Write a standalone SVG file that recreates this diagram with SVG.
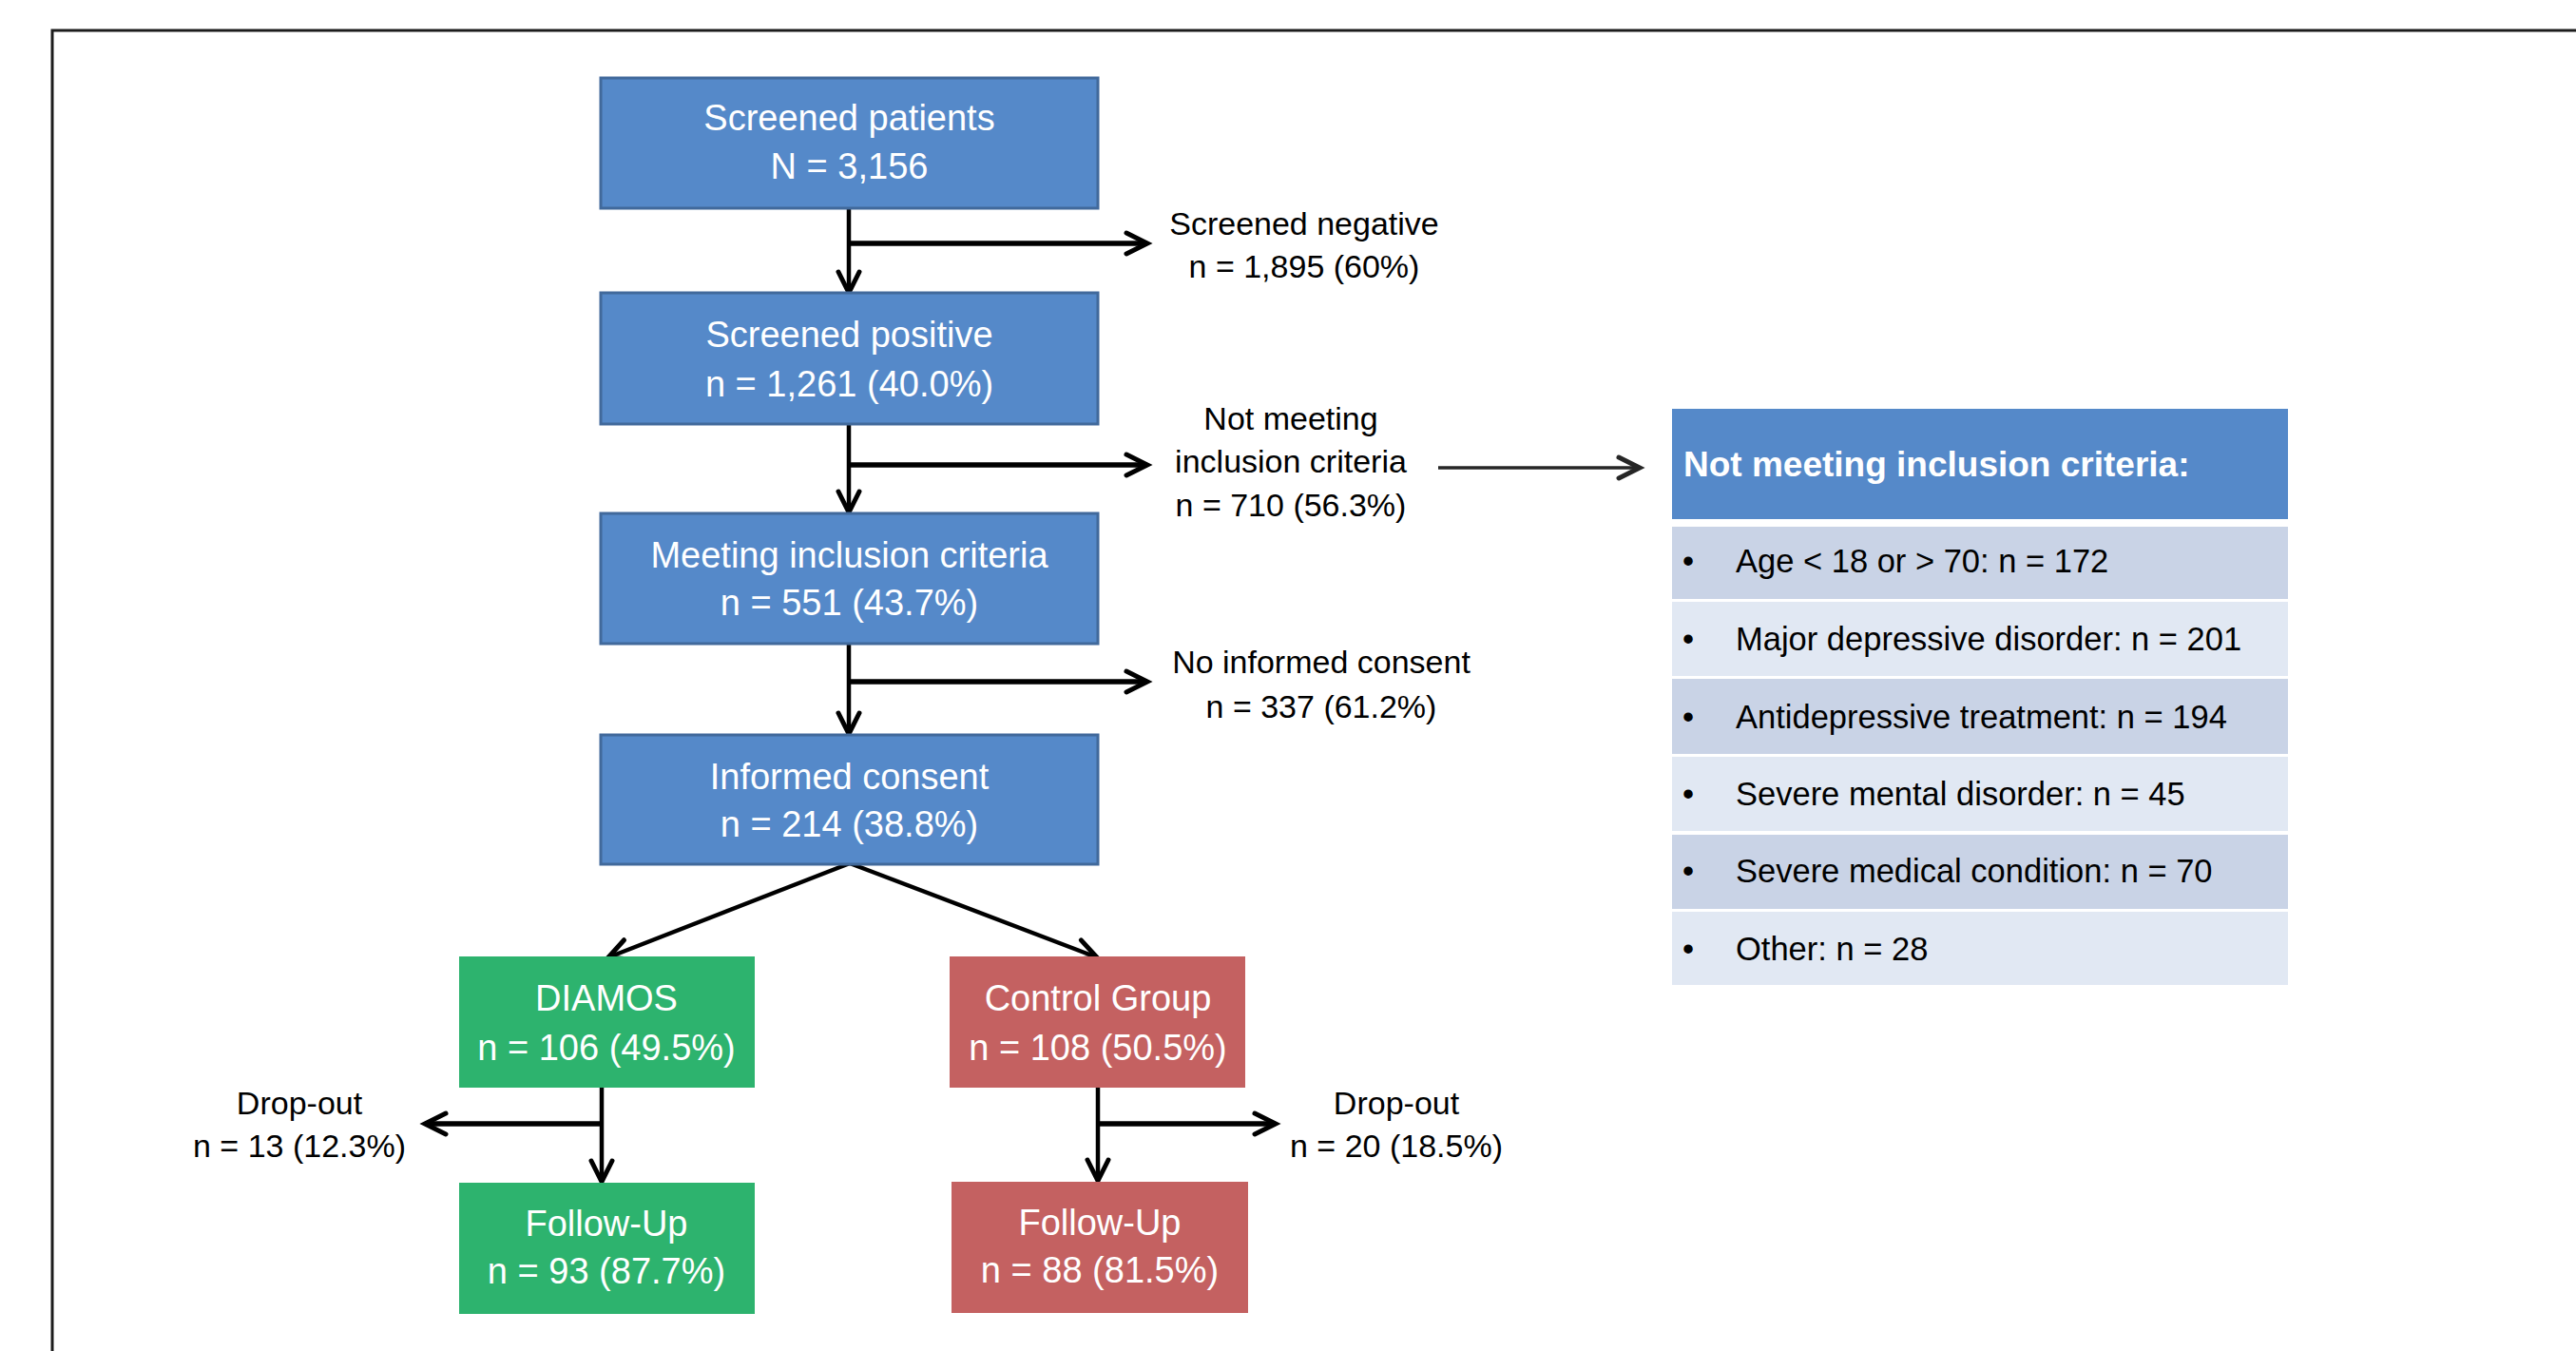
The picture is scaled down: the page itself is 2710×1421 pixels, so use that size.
<svg xmlns="http://www.w3.org/2000/svg" width="2710" height="1421" viewBox="0 0 2710 1421">
<style>
  .box-blue { fill: #5589C9; stroke: #41699B; stroke-width: 3; }
  .box-green { fill: #2DB36E; }
  .box-red { fill: #C46161; }
  .row-dark { fill: #C9D3E6; }
  .row-light { fill: #E1E8F3; }
  .t-box { font-family: "Liberation Sans", Arial, sans-serif; font-size: 38px; fill: #ffffff; text-anchor: middle; }
  .t-lbl { font-family: "Liberation Sans", Arial, sans-serif; font-size: 34px; fill: #000000; text-anchor: middle; }
  .t-row { font-family: "Liberation Sans", Arial, sans-serif; font-size: 34.5px; fill: #000000; }
  .t-head { font-family: "Liberation Sans", Arial, sans-serif; font-size: 37px; font-weight: bold; fill: #ffffff; }
  .conn { fill: none; stroke: #000000; stroke-width: 4.5; }
  .branch { fill: none; stroke: #000000; stroke-width: 5.5; }
  .thin { fill: none; stroke: #262626; stroke-width: 3.5; }
</style>
<defs>
  <marker id="arr" markerUnits="userSpaceOnUse" viewBox="-30 -20 40 40" refX="0" refY="0" markerWidth="40" markerHeight="40" orient="auto">
    <path d="M-22,-11 L0,0 L-22,11" fill="none" stroke="#000000" stroke-width="5" stroke-linecap="round"/>
  </marker>
  <marker id="arr2" markerUnits="userSpaceOnUse" viewBox="-30 -20 40 40" refX="0" refY="0" markerWidth="40" markerHeight="40" orient="auto">
    <path d="M-22,-11 L0,0 L-22,11" fill="none" stroke="#262626" stroke-width="5" stroke-linecap="round"/>
  </marker>
</defs>
<rect width="2710" height="1421" fill="#ffffff"/>
<rect x="55" y="32" width="2700" height="1450" fill="none" stroke="#1c1c1c" stroke-width="3"/>

<g id="connectors">
  <line class="conn" x1="893" y1="219" x2="893" y2="308" marker-end="url(#arr)"/>
  <line class="branch" x1="893" y1="256" x2="1207" y2="256" marker-end="url(#arr)"/>
  <line class="conn" x1="893" y1="446" x2="893" y2="539" marker-end="url(#arr)"/>
  <line class="branch" x1="893" y1="489" x2="1207" y2="489" marker-end="url(#arr)"/>
  <line class="conn" x1="893" y1="677" x2="893" y2="772" marker-end="url(#arr)"/>
  <line class="branch" x1="893" y1="717" x2="1207" y2="717" marker-end="url(#arr)"/>
  <line class="thin" x1="1513" y1="492" x2="1725" y2="492" marker-end="url(#arr2)"/>
  <line class="conn" x1="894" y1="908" x2="640" y2="1007" marker-end="url(#arr)"/>
  <line class="conn" x1="894" y1="908" x2="1154" y2="1007" marker-end="url(#arr)"/>
  <line class="conn" x1="633" y1="1144" x2="633" y2="1243" marker-end="url(#arr)"/>
  <line class="branch" x1="633" y1="1182" x2="447" y2="1182" marker-end="url(#arr)"/>
  <line class="conn" x1="1155" y1="1144" x2="1155" y2="1242" marker-end="url(#arr)"/>
  <line class="branch" x1="1155" y1="1182" x2="1342" y2="1182" marker-end="url(#arr)"/>
</g>

<g id="screened-patients">
  <rect class="box-blue" x="632" y="82" width="523" height="137"/>
  <text class="t-box" x="893.5" y="137">Screened patients</text>
  <text class="t-box" x="893.5" y="188">N = 3,156</text>
</g>
<g id="screened-positive">
  <rect class="box-blue" x="632" y="308" width="523" height="138"/>
  <text class="t-box" x="893.5" y="365">Screened positive</text>
  <text class="t-box" x="893.5" y="417">n = 1,261 (40.0%)</text>
</g>
<g id="meeting-inclusion">
  <rect class="box-blue" x="632" y="540" width="523" height="137"/>
  <text class="t-box" x="893.5" y="597">Meeting inclusion criteria</text>
  <text class="t-box" x="893.5" y="647">n = 551 (43.7%)</text>
</g>
<g id="informed-consent">
  <rect class="box-blue" x="632" y="773" width="523" height="136"/>
  <text class="t-box" x="893.5" y="830">Informed consent</text>
  <text class="t-box" x="893.5" y="880">n = 214 (38.8%)</text>
</g>

<g id="screened-negative">
  <text class="t-lbl" x="1372" y="247">Screened negative</text>
  <text class="t-lbl" x="1372" y="292">n = 1,895 (60%)</text>
</g>
<g id="not-meeting">
  <text class="t-lbl" x="1358" y="452">Not meeting</text>
  <text class="t-lbl" x="1358" y="497">inclusion criteria</text>
  <text class="t-lbl" x="1358" y="543">n = 710 (56.3%)</text>
</g>
<g id="no-consent">
  <text class="t-lbl" x="1390" y="708">No informed consent</text>
  <text class="t-lbl" x="1390" y="755">n = 337 (61.2%)</text>
</g>

<g id="diamos">
  <rect class="box-green" x="483" y="1006" width="311" height="138"/>
  <text class="t-box" x="638" y="1063">DIAMOS</text>
  <text class="t-box" x="638" y="1115">n = 106 (49.5%)</text>
</g>
<g id="control-group">
  <rect class="box-red" x="999" y="1006" width="311" height="138"/>
  <text class="t-box" x="1155" y="1063">Control Group</text>
  <text class="t-box" x="1155" y="1115">n = 108 (50.5%)</text>
</g>
<g id="dropout-diamos">
  <text class="t-lbl" x="315" y="1172">Drop-out</text>
  <text class="t-lbl" x="315" y="1217">n = 13 (12.3%)</text>
</g>
<g id="dropout-control">
  <text class="t-lbl" x="1469" y="1172">Drop-out</text>
  <text class="t-lbl" x="1469" y="1217">n = 20 (18.5%)</text>
</g>
<g id="followup-diamos">
  <rect class="box-green" x="483" y="1244" width="311" height="138"/>
  <text class="t-box" x="638" y="1300">Follow-Up</text>
  <text class="t-box" x="638" y="1350">n = 93 (87.7%)</text>
</g>
<g id="followup-control">
  <rect class="box-red" x="1001" y="1243" width="312" height="138"/>
  <text class="t-box" x="1157" y="1299">Follow-Up</text>
  <text class="t-box" x="1157" y="1349">n = 88 (81.5%)</text>
</g>

<g id="criteria-table">
  <rect x="1759" y="430" width="648" height="116" fill="#5589C9"/>
  <text class="t-head" x="1771" y="501">Not meeting inclusion criteria:</text>
  <rect class="row-dark" x="1759" y="554" width="648" height="76"/>
  <text class="t-row" x="1770" y="602">•</text>
  <text class="t-row" x="1826" y="602">Age &lt; 18 or &gt; 70: n = 172</text>
  <rect class="row-light" x="1759" y="633" width="648" height="78"/>
  <text class="t-row" x="1770" y="684">•</text>
  <text class="t-row" x="1826" y="684">Major depressive disorder: n = 201</text>
  <rect class="row-dark" x="1759" y="714" width="648" height="79"/>
  <text class="t-row" x="1770" y="766">•</text>
  <text class="t-row" x="1826" y="766">Antidepressive treatment: n = 194</text>
  <rect class="row-light" x="1759" y="796" width="648" height="78"/>
  <text class="t-row" x="1770" y="847">•</text>
  <text class="t-row" x="1826" y="847">Severe mental disorder: n = 45</text>
  <rect class="row-dark" x="1759" y="878" width="648" height="78"/>
  <text class="t-row" x="1770" y="928">•</text>
  <text class="t-row" x="1826" y="928">Severe medical condition: n = 70</text>
  <rect class="row-light" x="1759" y="959" width="648" height="77"/>
  <text class="t-row" x="1770" y="1010">•</text>
  <text class="t-row" x="1826" y="1010">Other: n = 28</text>
</g>
</svg>
